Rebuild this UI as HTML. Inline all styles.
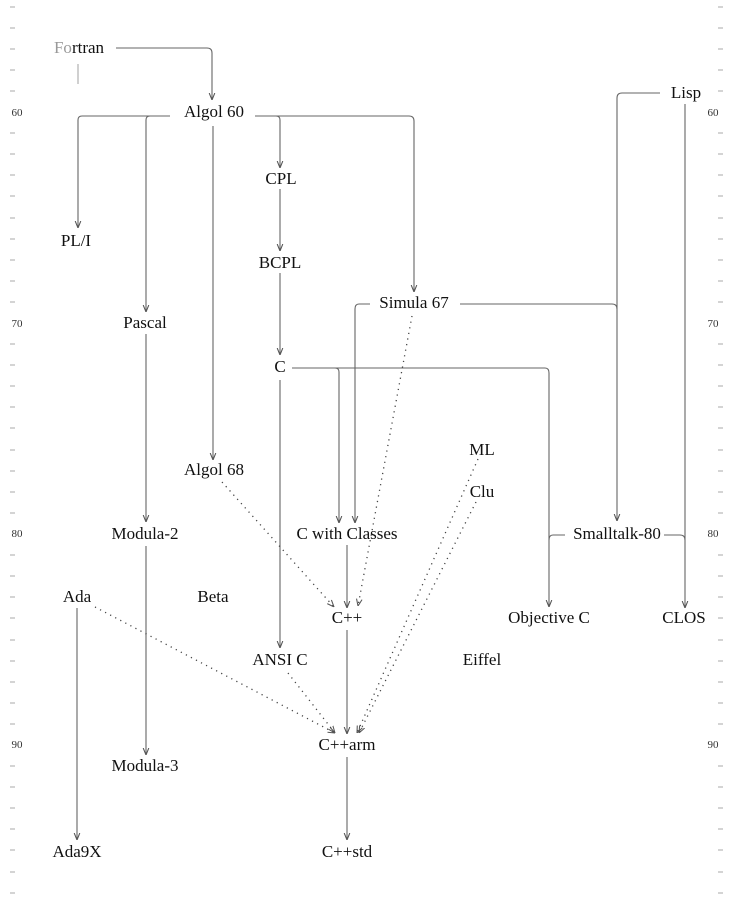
<!DOCTYPE html>
<html><head><meta charset="utf-8"><style>
html,body{margin:0;padding:0;background:#fff;}
svg{display:block}
svg text{font-family:"Liberation Serif","Times New Roman",serif !important;font-size:17px;fill:#111;text-anchor:middle}
svg text.ax{font-size:11px;fill:#333}
</style></head><body>
<svg width="737" height="907" viewBox="0 0 737 907" xmlns="http://www.w3.org/2000/svg" font-family="Liberation Serif, serif">
<defs>
<marker id="a" viewBox="0 0 10 10" refX="10" refY="5" markerWidth="7" markerHeight="9" orient="auto" markerUnits="userSpaceOnUse">
<path d="M0,1 L10,5 L0,9" fill="none" stroke="#555" stroke-width="1.5"/></marker>
</defs>
<path stroke="#aaa" stroke-width="1" d="M10,7h5M10,28h5M10,49h5M10,70h5M10,91h5M10,133h5M10,154h5M10,175h5M10,196h5M10,218h5M10,239h5M10,260h5M10,281h5M10,302h5M10,344h5M10,365h5M10,386h5M10,407h5M10,428h5M10,450h5M10,471h5M10,492h5M10,513h5M10,555h5M10,576h5M10,597h5M10,618h5M10,640h5M10,661h5M10,682h5M10,703h5M10,724h5M10,766h5M10,787h5M10,808h5M10,829h5M10,850h5M10,872h5M10,893h5
M718,7h5M718,28h5M718,49h5M718,70h5M718,91h5M718,133h5M718,154h5M718,175h5M718,196h5M718,218h5M718,239h5M718,260h5M718,281h5M718,302h5M718,344h5M718,365h5M718,386h5M718,407h5M718,428h5M718,450h5M718,471h5M718,492h5M718,513h5M718,555h5M718,576h5M718,597h5M718,618h5M718,640h5M718,661h5M718,682h5M718,703h5M718,724h5M718,766h5M718,787h5M718,808h5M718,829h5M718,850h5M718,872h5M718,893h5"/>
<text class="ax" x="17" y="116">60</text><text class="ax" x="17" y="327">70</text><text class="ax" x="17" y="537">80</text><text class="ax" x="17" y="748">90</text>
<text class="ax" x="713" y="116">60</text><text class="ax" x="713" y="327">70</text><text class="ax" x="713" y="537">80</text><text class="ax" x="713" y="748">90</text>

<g fill="none" stroke="#666" stroke-width="1.1">
<path d="M116,48 H207 Q212,48 212,53 V100" marker-end="url(#a)"/>
<path d="M78,64 V84" stroke="#aaa"/>
<path d="M170,116 H82 Q78,116 78,120 V228" marker-end="url(#a)"/>
<path d="M150,116 Q146,116 146,120 V312" marker-end="url(#a)"/>
<path d="M213,126 V460" marker-end="url(#a)"/>
<path d="M255,116 H409 Q414,116 414,121 V292" marker-end="url(#a)"/>
<path d="M276,116 Q280,116 280,120 V168" marker-end="url(#a)"/>
<path d="M280,189 V251" marker-end="url(#a)"/>
<path d="M280,273 V355" marker-end="url(#a)"/>
<path d="M292,368 H545 Q549,368 549,373 V607" marker-end="url(#a)"/>
<path d="M335,368 Q339,368 339,372 V523" marker-end="url(#a)"/>
<path d="M280,380 V648" marker-end="url(#a)"/>
<path d="M370,304 H359 Q355,304 355,309 V523" marker-end="url(#a)"/>
<path d="M460,304 H612 Q617,304 617,309 V521" marker-end="url(#a)"/>
<path d="M660,93 H622 Q617,93 617,98 V309"/>
<path d="M685,104 V608" marker-end="url(#a)"/>
<path d="M565,535 H553 Q549,535 549,540"/>
<path d="M664,535 H680 Q685,535 685,540"/>
<path d="M347,545 V608" marker-end="url(#a)"/>
<path d="M347,630 V734" marker-end="url(#a)"/>
<path d="M347,757 V840" marker-end="url(#a)"/>
<path d="M146,334 V522" marker-end="url(#a)"/>
<path d="M146,546 V755" marker-end="url(#a)"/>
<path d="M77,608 V840" marker-end="url(#a)"/>
</g>
<g fill="none" stroke="#444" stroke-width="1.3" stroke-dasharray="1.2,4.5">
<path d="M412,316 L358,606" marker-end="url(#a)"/>
<path d="M222,482 L334,607" marker-end="url(#a)"/>
<path d="M478,459 L357,733" marker-end="url(#a)"/>
<path d="M476,502 L359,733" marker-end="url(#a)"/>
<path d="M95,607 L335,733" marker-end="url(#a)"/>
<path d="M288,673 L335,733" marker-end="url(#a)"/>
</g>

<text x="79" y="53"><tspan fill="#999">Fo</tspan>rtran</text>
<text x="214" y="117">Algol 60</text>
<text x="281" y="184">CPL</text>
<text x="76" y="246">PL/I</text>
<text x="280" y="268">BCPL</text>
<text x="414" y="308">Simula 67</text>
<text x="145" y="328">Pascal</text>
<text x="686" y="98">Lisp</text>
<text x="280" y="372">C</text>
<text x="482" y="455">ML</text>
<text x="482" y="497">Clu</text>
<text x="214" y="475">Algol 68</text>
<text x="145" y="539">Modula-2</text>
<text x="347" y="539">C with Classes</text>
<text x="617" y="539">Smalltalk-80</text>
<text x="77" y="602">Ada</text>
<text x="213" y="602">Beta</text>
<text x="347" y="623">C++</text>
<text x="549" y="623">Objective C</text>
<text x="684" y="623">CLOS</text>
<text x="280" y="665">ANSI C</text>
<text x="482" y="665">Eiffel</text>
<text x="347" y="750">C++arm</text>
<text x="145" y="771">Modula-3</text>
<text x="77" y="857">Ada9X</text>
<text x="347" y="857">C++std</text>
</svg>
</body></html>
